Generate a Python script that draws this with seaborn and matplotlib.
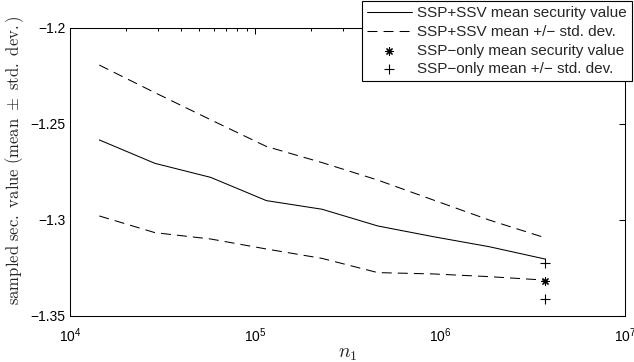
import matplotlib
matplotlib.use("Agg")
import matplotlib.pyplot as plt
import numpy as np
import pandas as pd
import seaborn as sns
from matplotlib.ticker import FixedLocator, FuncFormatter

# ---- data ----
n1 = [14400, 28800, 57600, 115200, 230400, 460800, 921600, 1843200, 3686400]
ssv_mean = [-1.2583, -1.2705, -1.2778, -1.2899, -1.2944, -1.3031, -1.3087, -1.3139, -1.3203]
ssv_upper = [-1.2193, -1.2337, -1.2478, -1.2617, -1.2701, -1.2792, -1.2896, -1.3000, -1.3092]
ssv_lower = [-1.2979, -1.3066, -1.3099, -1.3151, -1.3200, -1.3274, -1.3281, -1.3295, -1.3313]

ssp_n1 = [3686400]
ssp_mean = [-1.3316]
ssp_upper = [-1.3226]
ssp_lower = [-1.3413]

y_ticks = [-1.2, -1.25, -1.3, -1.35]
y_ticklabels = ["\u22121.2", "\u22121.25", "\u22121.3", "\u22121.35"]

legend_labels = ["SSP+SSV mean security value",
                 "SSP+SSV mean +/\u2212 std. dev.",
                 "SSP\u2212only mean security value",
                 "SSP\u2212only mean +/\u2212 std. dev."]

# ---- style ----
sns.set_style("white")
plt.rcParams["font.family"] = ["Liberation Sans", "DejaVu Sans"]
plt.rcParams["mathtext.fontset"] = "cm"
plt.rcParams["axes.linewidth"] = 0.75

df = pd.DataFrame({"n1": n1, "mean": ssv_mean, "upper": ssv_upper, "lower": ssv_lower})
df_ssp = pd.DataFrame({"n1": ssp_n1 * 3,
                       "val": ssp_mean + ssp_upper + ssp_lower,
                       "kind": ["mean", "pm", "pm"]})

fig = plt.figure(figsize=(6.34, 3.62), dpi=100)
ax = fig.add_axes([70 / 634, 1 - 316 / 362, 555 / 634, 288 / 362])

dash = (0, (9.6, 5.8))
sns.lineplot(data=df, x="n1", y="mean", ax=ax, color="k", lw=0.75, label=legend_labels[0])
sns.lineplot(data=df, x="n1", y="upper", ax=ax, color="k", lw=0.75, linestyle=dash,
             label=legend_labels[1])
sns.lineplot(data=df, x="n1", y="lower", ax=ax, color="k", lw=0.75, linestyle=dash)

sns.scatterplot(data=df_ssp[df_ssp.kind == "mean"], x="n1", y="val", ax=ax,
                marker=(8, 2, 0), s=28, color="k", edgecolor="k", linewidth=0.8,
                label=legend_labels[2])
sns.scatterplot(data=df_ssp[df_ssp.kind == "pm"], x="n1", y="val", ax=ax,
                marker="+", s=50, color="k", linewidth=0.8,
                label=legend_labels[3])

ax.set_xscale("log")
ax.set_xlim(1e4, 1e7)
ax.set_ylim(-1.35, -1.2)
ax.yaxis.set_major_locator(FixedLocator(y_ticks))
ax.set_yticklabels(y_ticklabels)

ax.tick_params(which="both", direction="in", top=True, right=True,
               labelsize=10, width=0.75, colors="k", pad=3)
ax.tick_params(axis="x", which="major", pad=7.5)
ax.tick_params(which="major", length=4.5)
ax.tick_params(which="minor", length=2.5)
for s in ax.spines.values():
    s.set_color("k")
    s.set_linewidth(0.75)

ax.set_ylabel(r"$\mathrm{sampled\ sec.\ value\ (mean\ \pm\ std.\ dev.)}$", fontsize=12)
ax.yaxis.set_label_coords(-0.08, 0.54)
ax.set_xlabel(r"$n_1$", fontsize=14, labelpad=1)

h, l = ax.get_legend_handles_labels()
leg = ax.legend(h, l, loc="upper right", bbox_to_anchor=(632 / 634, 361 / 362),
                bbox_transform=fig.transFigure, frameon=True, fancybox=False,
                edgecolor="k", framealpha=1, borderaxespad=0, handlelength=2.9,
                handletextpad=0.35, labelspacing=0.3, fontsize=11, borderpad=0.35)
leg.get_frame().set_linewidth(0.8)

fig.savefig("out.png", dpi=100)
